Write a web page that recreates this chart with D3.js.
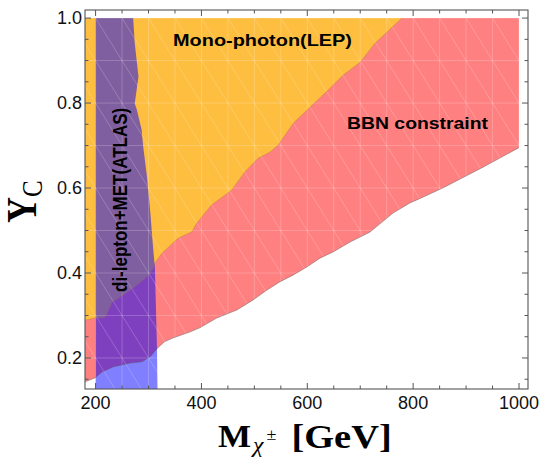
<!DOCTYPE html>
<html><head><meta charset="utf-8">
<script src="https://cdn.jsdelivr.net/npm/d3@7"></script>
<style>body{margin:0;background:#fff}svg{display:block}</style>
</head><body>
<svg id="chart" width="542" height="457"></svg>
<script>
// ---- data ----
const xMajor = [200, 400, 600, 800, 1000];
const yMajor = [0.2, 0.4, 0.6, 0.8, 1.0];
const xTickLabels = ["200", "400", "600", "800", "1000"];
const yTickLabels = ["0.2", "0.4", "0.6", "0.8", "1.0"];

// BBN constraint: lower boundary (region above it is excluded)
const bbnX = [180, 199, 212, 233, 265, 288, 305, 316, 330, 346, 378, 397, 429, 467, 497, 524, 548, 573, 599, 624, 648, 681, 718, 762, 794, 807, 856, 932, 1000];
const bbnY = [0.144, 0.153, 0.167, 0.179, 0.188, 0.191, 0.205, 0.222, 0.238, 0.247, 0.261, 0.271, 0.294, 0.313, 0.336, 0.360, 0.379, 0.395, 0.414, 0.435, 0.449, 0.473, 0.496, 0.541, 0.565, 0.572, 0.600, 0.649, 0.695];

// Mono-photon (LEP): lower boundary
const monoX = [180, 199, 218, 231, 252, 278, 299, 309, 312, 325, 356, 382, 391, 419, 457, 482, 507, 530, 545, 574, 606, 634, 668, 700, 728, 779];
const monoY = [0.289, 0.294, 0.296, 0.332, 0.348, 0.372, 0.393, 0.411, 0.423, 0.446, 0.482, 0.497, 0.517, 0.560, 0.595, 0.638, 0.670, 0.685, 0.701, 0.753, 0.791, 0.824, 0.866, 0.896, 0.941, 1.0];

// di-lepton + MET (ATLAS): band from M = 200 to right edge
const atlasLeft = 200;
const atlasEdgeY = [1.0, 0.941, 0.862, 0.799, 0.784, 0.737, 0.697, 0.627, 0.548, 0.454, 0.415, 0.226, 0.12];
const atlasEdgeX = [271, 274, 281, 274, 278, 287, 290, 297, 303, 309, 312, 316, 317];

const yTop = 1.0, xLeft = 180, xRight = 1000;

// ---- layout ----
const svg = d3.select("#chart");
const L = 85, R = 528, T = 10, B = 389;
const x = d3.scaleLinear().domain([180, 1017]).range([L, R]);
const y = d3.scaleLinear().domain([0.127, 1.019]).range([B, T]);
const line = d3.line().x(d => x(d[0])).y(d => y(d[1]));

svg.append("defs").append("clipPath").attr("id", "plotclip")
  .append("rect").attr("x", L).attr("y", T).attr("width", R - L).attr("height", B - T);
const g = svg.append("g").attr("clip-path", "url(#plotclip)");

// BBN region (red)
const bbnPts = bbnX.map((v, i) => [v, bbnY[i]]);
const redPoly = bbnPts.concat([[xRight, yTop], [xLeft, yTop]]);
g.append("path").attr("d", line(redPoly) + "Z").attr("fill", "#FF8080");

// Mono-photon region (orange)
const monoPts = monoX.map((v, i) => [v, monoY[i]]);
const orPoly = [[xLeft, yTop]].concat(monoPts);
g.append("path").attr("d", line(orPoly) + "Z").attr("fill", "#FEBE40");

// ATLAS band (translucent blue)
const yMin = y.domain()[0] - 0.01;
const atlasPts = [[atlasLeft, yMin], [atlasLeft, yTop]]
  .concat(atlasEdgeY.map((v, i) => [atlasEdgeX[i], v]))
  .concat([[atlasEdgeX[atlasEdgeX.length - 1], yMin]]);
g.append("path").attr("d", line(atlasPts) + "Z").attr("fill", "rgba(0,0,255,0.5)");

// faint mesh seams (rendering artefact of the original)
const mesh = g.append("g").attr("stroke", "#fff").attr("stroke-opacity", 0.25)
  .attr("stroke-width", 0.8).attr("fill", "none");
const mx = d3.range(150, 1001, 50), my = d3.range(0.1, 1.001, 0.1);
mx.forEach(v => { if (v >= 200) mesh.append("line").attr("x1", x(v)).attr("x2", x(v)).attr("y1", y(0.1)).attr("y2", y(1.0)); });
my.forEach(v => mesh.append("line").attr("x1", x(180)).attr("x2", x(1000)).attr("y1", y(v)).attr("y2", y(v)));
mx.forEach(v => my.forEach(w => {
  if (w < 0.95) mesh.append("line").attr("x1", x(v)).attr("y1", y(w + 0.1)).attr("x2", x(v + 50)).attr("y2", y(w));
}));

// boundary seams
g.append("path").attr("d", line(bbnPts)).attr("fill", "none").attr("stroke", "rgba(90,90,90,0.55)").attr("stroke-width", 0.8);
g.append("path").attr("d", line(monoPts)).attr("fill", "none").attr("stroke", "rgba(150,110,60,0.45)").attr("stroke-width", 0.7);

// ---- frame and ticks ----
const ax = svg.append("g").attr("stroke", "#555").attr("fill", "none");
ax.append("rect").attr("x", L).attr("y", T).attr("width", R - L).attr("height", B - T).attr("stroke-width", 1.1);
const xMinor = d3.range(200, 1001, 50).filter(v => !xMajor.includes(v));
const yMinor = d3.range(0.15, 1.0001, 0.05).map(v => +v.toFixed(2)).filter(v => !yMajor.some(m => Math.abs(m - v) < 1e-6));
function xt(v, len) {
  ax.append("line").attr("x1", x(v)).attr("x2", x(v)).attr("y1", B).attr("y2", B - len);
  ax.append("line").attr("x1", x(v)).attr("x2", x(v)).attr("y1", T).attr("y2", T + len);
}
function yt(v, len) {
  ax.append("line").attr("y1", y(v)).attr("y2", y(v)).attr("x1", L).attr("x2", L + len);
  ax.append("line").attr("y1", y(v)).attr("y2", y(v)).attr("x1", R).attr("x2", R - len);
}
xMajor.forEach(v => xt(v, 6)); xMinor.forEach(v => xt(v, 3.5));
yMajor.forEach(v => yt(v, 6)); yMinor.forEach(v => yt(v, 3.5));

const tf = "'Liberation Sans', Arial, sans-serif";
svg.append("g").selectAll("text").data(xMajor).join("text")
  .attr("x", d => x(d)).attr("y", 409).attr("text-anchor", "middle")
  .attr("font-family", tf).attr("font-size", 18).attr("fill", "#111")
  .text((d, i) => xTickLabels[i]);
svg.append("g").selectAll("text").data(yMajor).join("text")
  .attr("x", 82).attr("y", d => y(d) + 6.3).attr("text-anchor", "end")
  .attr("font-family", tf).attr("font-size", 18).attr("fill", "#111")
  .text((d, i) => yTickLabels[i]);

// ---- region labels ----
svg.append("text").attr("x", 173).attr("y", 46).attr("font-family", tf).attr("font-weight", "bold")
  .attr("font-size", 17).attr("textLength", 179).attr("lengthAdjust", "spacingAndGlyphs").attr("fill", "#000")
  .text("Mono-photon(LEP)");
svg.append("text").attr("x", 347).attr("y", 129).attr("font-family", tf).attr("font-weight", "bold")
  .attr("font-size", 17).attr("textLength", 141).attr("lengthAdjust", "spacingAndGlyphs").attr("fill", "#000")
  .text("BBN constraint");
svg.append("text").attr("transform", "translate(127,292) scale(1.18,1) rotate(-90)")
  .attr("font-family", tf).attr("font-weight", "bold").attr("font-size", 17).attr("fill", "#000")
  .text("di-lepton+MET(ATLAS)");

// ---- axis titles ----
const sf = "'Liberation Serif', 'Times New Roman', serif";
const yl = svg.append("g").attr("transform", "translate(36,223) scale(1.15,1) rotate(-90)");
yl.append("text").attr("font-family", sf).attr("font-weight", "bold").attr("font-size", 36).attr("fill", "#000").text("Y");
yl.append("text").attr("x", 26).attr("y", 5).attr("font-family", sf).attr("font-size", 25).attr("fill", "#000").text("C");

const xl = svg.append("g").attr("transform", "translate(218,447) scale(1.13,1)");
xl.append("text").attr("font-family", sf).attr("font-weight", "bold").attr("font-size", 31).attr("fill", "#000").text("M");
xl.append("text").attr("x", 31).attr("y", 5).attr("font-family", sf).attr("font-style", "italic").attr("font-size", 21).attr("fill", "#000").text("χ");
xl.append("text").attr("x", 43).attr("y", -7).attr("font-family", sf).attr("font-size", 16).attr("fill", "#000").text("±");
xl.append("text").attr("x", 65).attr("y", 1).attr("font-family", sf).attr("font-weight", "bold").attr("font-size", 34).attr("fill", "#000").text("[GeV]");
</script>
</body></html>
